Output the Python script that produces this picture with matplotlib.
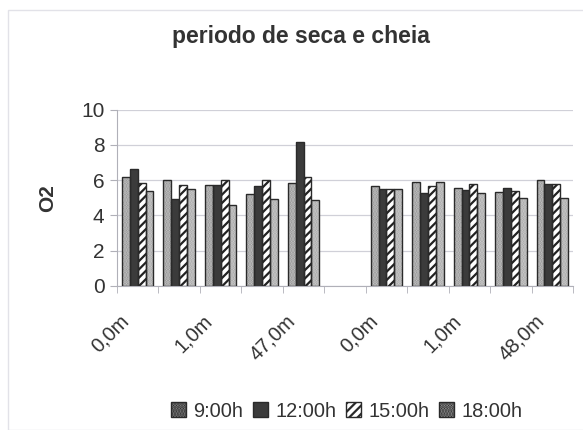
import matplotlib.pyplot as plt
import numpy as np
from matplotlib.patches import Rectangle
from matplotlib.transforms import ScaledTranslation, blended_transform_factory

plt.rcParams['font.family'] = ['Liberation Sans', 'DejaVu Sans']
plt.rcParams['hatch.linewidth'] = 1.6

# dados
categorias = ['0,0m', '', '1,0m', '', '47,0m', '', '0,0m', '', '1,0m', '', '48,0m']
h09 = [6.2, 6.0, 5.75, 5.2, 5.85, np.nan, 5.65, 5.9, 5.55, 5.35, 6.0]
h12 = [6.65, 4.95, 5.75, 5.65, 8.15, np.nan, 5.5, 5.3, 5.45, 5.55, 5.8]
h15 = [5.85, 5.75, 6.0, 6.0, 6.2, np.nan, 5.5, 5.65, 5.8, 5.4, 5.8]
h18 = [5.4, 5.5, 4.6, 4.95, 4.85, np.nan, 5.5, 5.9, 5.3, 5.0, 5.0]
series = ['9:00h', '12:00h', '15:00h', '18:00h']

# estilo de cada série: (cor, hachura, cor da hachura)
estilos = [('#8e8e8e', '......', '#c4c4c4'),
           ('#3b3b3b', None, '#3b3b3b'),
           ('white', '////', '#222222'),
           ('#a2a2a2', '......', '#cdcdcd')]

fig = plt.figure(figsize=(5.83, 4.30), dpi=100)
ax = fig.add_axes([0.2007, 0.335, 0.7822, 0.41])

# moldura fraca do gráfico
fig.patches.append(Rectangle((0.014, 0.0), 1.2, 0.976, transform=fig.transFigure,
                             fill=False, edgecolor='#e2e2e8', linewidth=1.0))

x = np.arange(len(categorias))
w = 0.19
for i, (vals, nome) in enumerate(zip([h09, h12, h15, h18], series)):
    cor, hatch, hcor = estilos[i]
    pos = x + (i - 1.5) * w
    ax.bar(pos, vals, w, color=cor, hatch=hatch, edgecolor=hcor, linewidth=0, zorder=2)
    ax.bar(pos, vals, w, fill=False, edgecolor='#2a2a2a', linewidth=1.0, zorder=3)
    # entrada de legenda
    ax.bar([np.nan], [np.nan], color=cor, hatch=hatch, edgecolor='#2a2a2a',
           linewidth=1.0, label=nome)

ax.set_xlim(-0.5, len(categorias) - 0.5)
ax.set_ylim(0, 10)
ax.set_yticks([0, 2, 4, 6, 8, 10])
ax.yaxis.grid(True, color='#d0d0d8', linewidth=0.9, zorder=0)
ax.set_axisbelow(True)

# rótulos do eixo x girados (como no Excel, um pouco à esquerda do centro)
ax.set_xticks(x)
ax.set_xticklabels([])
trans = blended_transform_factory(ax.transData, ax.transAxes) + \
    ScaledTranslation(-0.18, -0.25, fig.dpi_scale_trans)
for xi, rot in zip(x, categorias):
    ax.text(xi, 0, rot, transform=trans, rotation=45, rotation_mode='anchor',
            ha='right', va='top', fontsize=14.5, color='#333333')
ax.set_xticks(np.arange(-0.5, len(categorias)), minor=True)
ax.tick_params(axis='x', which='major', length=0)
ax.tick_params(axis='x', which='minor', length=5, color='#b0b0b8', direction='out')
ax.tick_params(axis='y', length=5, color='#b0b0b8', labelsize=15, labelcolor='#333333', pad=4)

for s in ['top', 'right']:
    ax.spines[s].set_visible(False)
for s in ['left', 'bottom']:
    ax.spines[s].set_color('#b0b0b8')

ax.set_ylabel('O2', fontsize=15, fontweight='bold', color='#333333', labelpad=17)
fig.text(0.516, 0.914, 'periodo de seca e cheia', ha='center', va='center',
         fontsize=16.5, fontweight='bold', color='#333333')

fig.legend(loc='center', bbox_to_anchor=(0.595, 0.044), ncol=4, frameon=False,
           fontsize=14.4, handlelength=0.75, handleheight=0.75, handletextpad=0.35,
           columnspacing=0.5, labelcolor='#333333')

fig.savefig('out.png', dpi=100)
